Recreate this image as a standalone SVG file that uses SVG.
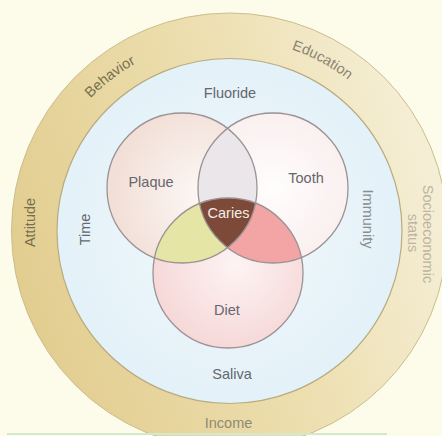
<svg xmlns="http://www.w3.org/2000/svg" width="442" height="436" viewBox="0 0 442 436">
<defs>
<style>
text{font-family:"Liberation Sans",Arial,sans-serif;font-size:14.5px;text-anchor:middle}
.in{fill:#66666d}
.band{fill:#77704f}
.venn{fill:none;stroke:#9a9294;stroke-width:1.3}
</style>
<linearGradient id="gBand" x1="0" y1="0.6" x2="1" y2="0.3">
<stop offset="0" stop-color="#e2cd8f"/>
<stop offset="0.55" stop-color="#eddfb0"/>
<stop offset="1" stop-color="#f6f0da"/>
</linearGradient>
<radialGradient id="gBlue" cx="0.5" cy="0.5" r="0.5">
<stop offset="0" stop-color="#f2f9fc"/>
<stop offset="1" stop-color="#e3f1f8"/>
</radialGradient>
<radialGradient id="gP" cx="0.65" cy="0.55" r="0.6">
<stop offset="0" stop-color="#fdf8f5"/>
<stop offset="1" stop-color="#f2e0d8"/>
</radialGradient>
<radialGradient id="gT" cx="0.5" cy="0.5" r="0.6">
<stop offset="0" stop-color="#fffdfd"/>
<stop offset="1" stop-color="#f9eded"/>
</radialGradient>
<radialGradient id="gD" cx="0.55" cy="0.45" r="0.6">
<stop offset="0" stop-color="#fdf3f3"/>
<stop offset="1" stop-color="#f6d6d6"/>
</radialGradient>
<clipPath id="cP"><circle cx="182" cy="188" r="75"/></clipPath>
<clipPath id="cT"><circle cx="273" cy="188" r="75"/></clipPath>
<path id="arc" d="M 37.5 231 A 192 192 0 0 1 421.5 231"/>
</defs>
<rect width="442" height="436" fill="#fdfbe9"/>
<g id="outer-ring">
<circle cx="229.5" cy="231" r="218" fill="url(#gBand)" stroke="#cbbd8e" stroke-width="1"/>
<text class="band"><textPath href="#arc" startOffset="175">Behavior</textPath></text>
<text class="band" style="fill:#8a8473"><textPath href="#arc" startOffset="397">Education</textPath></text>
<text class="band" transform="translate(35 222.5) rotate(-90)">Attitude</text>
<text transform="translate(423 234) rotate(90)" style="fill:#bdb5a2">Socioeconomic</text>
<text transform="translate(408 233) rotate(90)" style="fill:#bdb5a2">status</text>
<text x="228.5" y="428" style="fill:#8f8a76">Income</text>
</g>
<g id="inner-ring">
<circle cx="229.5" cy="231" r="172.5" fill="url(#gBlue)" stroke="#b9ab80" stroke-width="1.2"/>
<text class="in" x="230" y="98">Fluoride</text>
<text class="in" x="232" y="379">Saliva</text>
<text class="in" transform="translate(90 229.5) rotate(-90)">Time</text>
<text transform="translate(363 219) rotate(90)" style="fill:#8c8c93">Immunity</text>
</g>
<g id="plaque"><circle cx="182" cy="188" r="75" fill="url(#gP)"/></g>
<g id="tooth"><circle cx="273" cy="188" r="75" fill="url(#gT)"/></g>
<g id="diet"><circle cx="228" cy="273" r="75" fill="url(#gD)"/></g>
<g id="overlaps">
<circle cx="273" cy="188" r="75" fill="#ebe6e9" clip-path="url(#cP)"/>
<circle cx="228" cy="273" r="75" fill="#e5e6a5" clip-path="url(#cP)"/>
<circle cx="228" cy="273" r="75" fill="#f2a5a4" clip-path="url(#cT)"/>
</g>
<g id="caries">
<g clip-path="url(#cT)"><circle cx="228" cy="273" r="75" fill="#7d4a39" clip-path="url(#cP)"/></g>
</g>
<g id="outlines">
<circle class="venn" cx="182" cy="188" r="75"/>
<circle class="venn" cx="273" cy="188" r="75"/>
<circle class="venn" cx="228" cy="273" r="75"/>
</g>
<g id="labels">
<text class="in" x="151" y="187">Plaque</text>
<text class="in" x="306" y="183">Tooth</text>
<text x="228.5" y="218" style="fill:#f4ece8">Caries</text>
<text class="in" x="227" y="315">Diet</text>
</g>
<g id="connectors"/>
<rect x="7" y="433" width="380" height="2" fill="#d3e8cc"/>
</svg>
